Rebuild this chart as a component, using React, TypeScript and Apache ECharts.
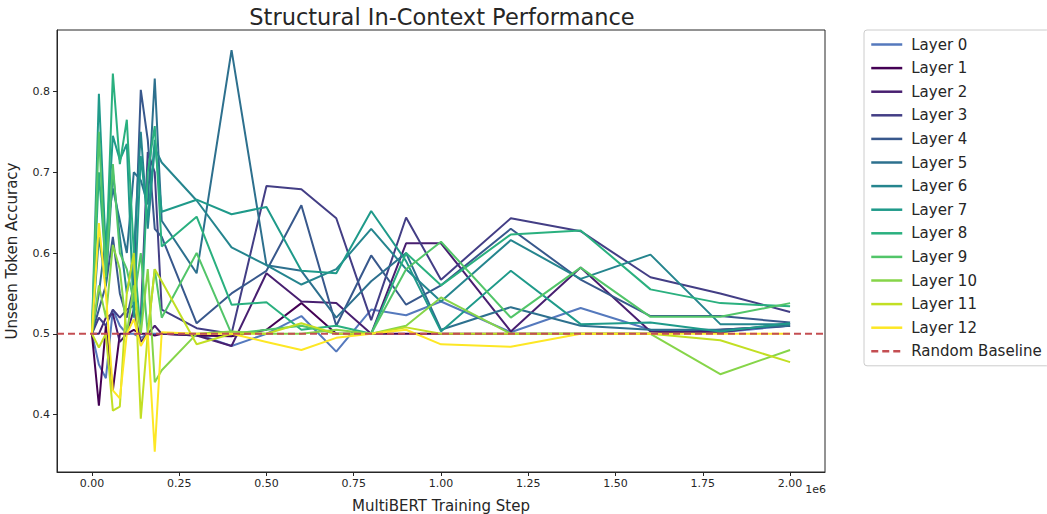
import React, { useEffect, useRef } from "react";
import * as echarts from "echarts";

const steps = [0, 0.02, 0.04, 0.06, 0.08, 0.1, 0.12, 0.14, 0.16, 0.18, 0.2, 0.3, 0.4, 0.5, 0.6, 0.7, 0.8, 0.9, 1.0, 1.2, 1.4, 1.6, 1.8, 2.0];

const layer0 = [0.50, 0.462, 0.445, 0.53, 0.51, 0.50, 0.50, 0.495, 0.50, 0.50, 0.50, 0.50, 0.485, 0.50, 0.522, 0.478, 0.53, 0.523, 0.54, 0.502, 0.532, 0.505, 0.502, 0.51];
const layer1 = [0.50, 0.411, 0.51, 0.43, 0.50, 0.50, 0.505, 0.50, 0.50, 0.498, 0.50, 0.498, 0.497, 0.505, 0.538, 0.50, 0.50, 0.50, 0.50, 0.50, 0.50, 0.50, 0.505, 0.51];
const layer2 = [0.50, 0.50, 0.52, 0.525, 0.49, 0.50, 0.53, 0.49, 0.50, 0.51, 0.50, 0.498, 0.485, 0.575, 0.54, 0.538, 0.50, 0.612, 0.612, 0.503, 0.582, 0.503, 0.502, 0.513];
const layer3 = [0.50, 0.52, 0.51, 0.53, 0.52, 0.53, 0.535, 0.52, 0.725, 0.70, 0.53, 0.507, 0.50, 0.683, 0.679, 0.643, 0.517, 0.644, 0.567, 0.643, 0.627, 0.570, 0.550, 0.527];
const layer4 = [0.50, 0.53, 0.56, 0.62, 0.55, 0.52, 0.56, 0.802, 0.74, 0.63, 0.62, 0.513, 0.55, 0.578, 0.659, 0.51, 0.597, 0.536, 0.56, 0.63, 0.567, 0.522, 0.522, 0.514];
const layer5 = [0.50, 0.55, 0.62, 0.68, 0.64, 0.60, 0.70, 0.69, 0.66, 0.816, 0.64, 0.575, 0.851, 0.585, 0.578, 0.52, 0.565, 0.60, 0.505, 0.533, 0.51, 0.505, 0.505, 0.51];
const layer6 = [0.50, 0.62, 0.56, 0.70, 0.62, 0.55, 0.60, 0.75, 0.63, 0.73, 0.712, 0.665, 0.607, 0.585, 0.561, 0.58, 0.63, 0.58, 0.54, 0.616, 0.568, 0.598, 0.512, 0.512];
const layer7 = [0.50, 0.797, 0.60, 0.745, 0.715, 0.735, 0.52, 0.72, 0.64, 0.74, 0.651, 0.666, 0.648, 0.657, 0.578, 0.575, 0.652, 0.59, 0.503, 0.578, 0.512, 0.514, 0.503, 0.513];
const layer8 = [0.50, 0.70, 0.58, 0.822, 0.71, 0.765, 0.60, 0.50, 0.70, 0.757, 0.608, 0.645, 0.536, 0.539, 0.505, 0.51, 0.50, 0.60, 0.56, 0.623, 0.628, 0.555, 0.538, 0.534];
const layer9 = [0.50, 0.75, 0.57, 0.71, 0.60, 0.58, 0.54, 0.60, 0.50, 0.58, 0.52, 0.60, 0.50, 0.505, 0.51, 0.50, 0.50, 0.58, 0.614, 0.52, 0.582, 0.521, 0.521, 0.538];
const layer10 = [0.50, 0.56, 0.52, 0.61, 0.58, 0.50, 0.56, 0.50, 0.58, 0.44, 0.455, 0.50, 0.503, 0.50, 0.50, 0.505, 0.50, 0.51, 0.545, 0.50, 0.50, 0.50, 0.45, 0.48];
const layer11 = [0.50, 0.483, 0.50, 0.405, 0.41, 0.55, 0.60, 0.395, 0.50, 0.58, 0.565, 0.487, 0.50, 0.50, 0.513, 0.50, 0.50, 0.508, 0.50, 0.50, 0.50, 0.50, 0.492, 0.465];
const layer12 = [0.50, 0.637, 0.55, 0.43, 0.42, 0.50, 0.518, 0.485, 0.50, 0.354, 0.502, 0.50, 0.50, 0.49, 0.48, 0.495, 0.50, 0.505, 0.487, 0.484, 0.50, 0.50, 0.50, 0.50];

const layerNames = ["Layer 0", "Layer 1", "Layer 2", "Layer 3", "Layer 4", "Layer 5", "Layer 6", "Layer 7", "Layer 8", "Layer 9", "Layer 10", "Layer 11", "Layer 12"];
const layerValues = [layer0, layer1, layer2, layer3, layer4, layer5, layer6, layer7, layer8, layer9, layer10, layer11, layer12];
const layerColors = ["#5579bd", "#440154", "#481f70", "#433e85", "#38588c", "#2d708e", "#25858e", "#1f9a8a", "#2ab07f", "#52c569", "#86d549", "#c2df23", "#fde725"];

const baselineName = "Random Baseline";
const baselineValue = 0.5;
const xTicks = [0, 0.25, 0.5, 0.75, 1.0, 1.25, 1.5, 1.75, 2.0];
const yTicks = [0.4, 0.5, 0.6, 0.7, 0.8];

const FONT = "DejaVu Sans";

export default function App() {
  const ref = useRef<HTMLDivElement>(null);
  useEffect(() => {
    document.body.style.margin = "0";
    if (!ref.current) return;
    const chart = echarts.init(ref.current, null, { renderer: "svg" });
    const series: any[] = layerNames.map((name, i) => ({
      name,
      type: "line",
      data: steps.map((s, j) => [s, layerValues[i][j]]),
      showSymbol: false,
      symbol: "none",
      lineStyle: { width: 2, color: layerColors[i] },
      itemStyle: { color: layerColors[i] },
      z: 2 + i,
    }));
    series.push({
      name: baselineName,
      type: "line",
      data: [[-0.1, baselineValue], [2.1, baselineValue]],
      showSymbol: false,
      symbol: "none",
      lineStyle: { width: 2, color: "#c44e52", type: [7, 4] },
      itemStyle: { color: "#c44e52" },
      z: 30,
    });
    chart.setOption({
      animation: false,
      backgroundColor: "#ffffff",
      textStyle: { fontFamily: FONT },
      title: {
        text: "Structural In-Context Performance",
        left: 437,
        textAlign: "center",
        top: 0,
        textStyle: { fontFamily: FONT, fontSize: 22.5, fontWeight: "normal", color: "#262626" },
      },
      grid: { left: 57, top: 30, width: 768, height: 442, containLabel: false, outerBoundsMode: "none" },
      legend: {
        orient: "vertical",
        left: 864,
        top: 30,
        padding: [6, 8, 6, 6],
        itemGap: 6.6,
        itemWidth: 31,
        itemHeight: 14,
        itemStyle: { opacity: 0 },
        lineStyle: { width: 2.5 },
        backgroundColor: "#ffffff",
        borderColor: "#cccccc",
        borderWidth: 1,
        borderRadius: 3,
        data: [...layerNames, baselineName],
        textStyle: { fontFamily: FONT, fontSize: 15, color: "#262626", lineHeight: 17, padding: [0, 0, 0, 4] },
      },
      xAxis: {
        type: "value",
        min: -0.1,
        max: 2.1,
        name: "MultiBERT Training Step",
        nameLocation: "middle",
        nameGap: 26,
        nameTextStyle: { fontFamily: FONT, fontSize: 15, color: "#262626" },
        axisLine: { show: true, onZero: false, lineStyle: { color: "#262626", width: 1 } },
        axisTick: { show: true, length: 4, customValues: xTicks, lineStyle: { color: "#262626" } },
        axisLabel: {
          customValues: xTicks,
          formatter: (v: number) => v.toFixed(2),
          fontFamily: FONT,
          fontSize: 11,
          color: "#262626",
          margin: 6,
        },
        splitLine: { show: false },
      },
      yAxis: {
        type: "value",
        min: 0.329,
        max: 0.876,
        name: "Unseen Token Accuracy",
        nameLocation: "middle",
        nameGap: 38,
        nameTextStyle: { fontFamily: FONT, fontSize: 15, color: "#262626" },
        axisLine: { show: true, onZero: false, lineStyle: { color: "#262626", width: 1 } },
        axisTick: { show: true, length: 4, customValues: yTicks, lineStyle: { color: "#262626" } },
        axisLabel: {
          customValues: yTicks,
          formatter: (v: number) => v.toFixed(1),
          fontFamily: FONT,
          fontSize: 11,
          color: "#262626",
          margin: 7,
        },
        splitLine: { show: false },
      },
      graphic: [
        {
          type: "rect",
          shape: { x: 57, y: 30, width: 768, height: 442 },
          style: { fill: "none", stroke: "#262626", lineWidth: 1 },
          silent: true,
          z: 50,
        },
        {
          type: "text",
          x: 826,
          y: 484,
          style: { text: "1e6", fontFamily: FONT, fontSize: 11, fill: "#262626", textAlign: "right" },
        },
      ],
      series,
    });
    return () => chart.dispose();
  }, []);
  return <div ref={ref} style={{ width: 1047, height: 514, position: "absolute", left: 0, top: 0 }} />;
}
